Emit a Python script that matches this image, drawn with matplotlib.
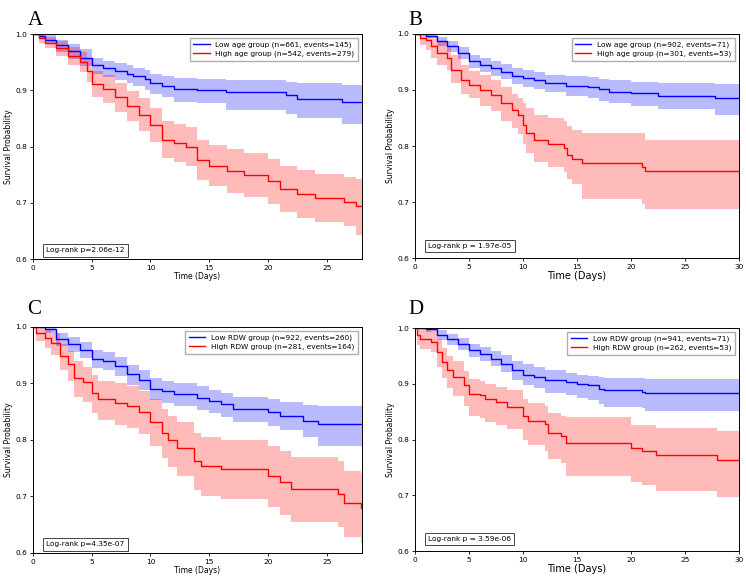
import matplotlib
matplotlib.use('Agg')
import matplotlib.pyplot as plt

# ---- Panel A: age groups (28 days) ----
a_low_t = [0, 0.5, 1, 2, 3, 4, 5, 6, 7, 8, 8.5, 9.5, 10, 11, 12, 14, 16.4, 21.5, 22.5, 26.3, 28]
a_low_s = [1.0, 0.997, 0.99, 0.98, 0.97, 0.958, 0.945, 0.94, 0.935, 0.93, 0.925, 0.92, 0.913, 0.908, 0.902, 0.901, 0.897, 0.891, 0.885, 0.879, 0.879]
a_low_hi = [1.0, 1.0, 0.998, 0.99, 0.983, 0.973, 0.958, 0.953, 0.949, 0.945, 0.94, 0.936, 0.93, 0.926, 0.922, 0.921, 0.918, 0.915, 0.914, 0.909, 0.909]
a_low_lo = [1.0, 0.992, 0.982, 0.968, 0.956, 0.943, 0.93, 0.924, 0.919, 0.913, 0.907, 0.901, 0.894, 0.888, 0.88, 0.878, 0.865, 0.858, 0.85, 0.84, 0.84]

a_high_t = [0, 0.5, 1, 2, 3, 4, 4.6, 5, 6, 7, 8, 9, 10, 11, 12, 13, 14, 15, 16.5, 18, 20, 21, 22.5, 24, 26.5, 27.5, 28]
a_high_s = [1.0, 0.993, 0.985, 0.975, 0.962, 0.95, 0.935, 0.912, 0.903, 0.888, 0.872, 0.857, 0.838, 0.812, 0.806, 0.8, 0.776, 0.766, 0.756, 0.749, 0.738, 0.725, 0.715, 0.708, 0.702, 0.695, 0.695]
a_high_hi = [1.0, 1.0, 0.995, 0.988, 0.978, 0.968, 0.955, 0.935, 0.927, 0.914, 0.899, 0.886, 0.868, 0.846, 0.84, 0.835, 0.812, 0.803, 0.795, 0.788, 0.778, 0.766, 0.758, 0.752, 0.745, 0.742, 0.742]
a_high_lo = [1.0, 0.985, 0.975, 0.962, 0.946, 0.932, 0.915, 0.888, 0.878, 0.862, 0.845, 0.828, 0.808, 0.78, 0.773, 0.766, 0.741, 0.73, 0.718, 0.71, 0.698, 0.684, 0.673, 0.665, 0.658, 0.642, 0.642]

# ---- Panel B: age groups (30 days) ----
b_low_t = [0, 1, 2, 3, 4, 5, 6, 7, 8, 9, 10, 11, 12, 14, 16, 17, 18, 20, 22.5, 27.8, 30]
b_low_s = [1.0, 0.997, 0.987, 0.978, 0.966, 0.951, 0.945, 0.939, 0.933, 0.925, 0.921, 0.918, 0.912, 0.908, 0.905, 0.901, 0.897, 0.894, 0.89, 0.886, 0.886]
b_low_hi = [1.0, 1.0, 0.995, 0.988, 0.977, 0.963, 0.958, 0.952, 0.946, 0.939, 0.935, 0.932, 0.927, 0.925, 0.923, 0.92, 0.917, 0.915, 0.912, 0.911, 0.911]
b_low_lo = [1.0, 0.993, 0.979, 0.968, 0.955, 0.939, 0.932, 0.925, 0.919, 0.911, 0.906, 0.902, 0.896, 0.889, 0.885, 0.88, 0.876, 0.872, 0.866, 0.855, 0.855]

b_high_t = [0, 0.5, 1, 1.5, 2, 3, 3.3, 4.3, 5, 6, 7, 8, 9, 9.5, 10, 10.3, 11, 12.3, 13.8, 14.1, 14.5, 15.5, 21, 21.3, 30]
b_high_s = [1.0, 0.993, 0.99, 0.978, 0.966, 0.957, 0.936, 0.918, 0.909, 0.9, 0.891, 0.876, 0.864, 0.855, 0.838, 0.823, 0.81, 0.803, 0.796, 0.784, 0.776, 0.77, 0.763, 0.756, 0.756]
b_high_hi = [1.0, 1.0, 1.0, 0.993, 0.985, 0.978, 0.962, 0.945, 0.934, 0.926, 0.918, 0.905, 0.893, 0.885, 0.876, 0.868, 0.856, 0.85, 0.845, 0.835, 0.828, 0.824, 0.824, 0.811, 0.811]
b_high_lo = [1.0, 0.98, 0.972, 0.958, 0.945, 0.935, 0.912, 0.893, 0.885, 0.872, 0.862, 0.845, 0.832, 0.822, 0.803, 0.787, 0.771, 0.763, 0.754, 0.741, 0.733, 0.705, 0.697, 0.688, 0.688]

# ---- Panel C: RDW groups (28 days) ----
c_low_t = [0, 0.5, 1, 2, 3, 4, 5, 6, 7, 8, 9, 10, 11, 12, 14, 15, 16, 17, 20, 21, 23, 24.3, 28]
c_low_s = [1.0, 1.0, 0.997, 0.978, 0.969, 0.96, 0.943, 0.94, 0.931, 0.916, 0.907, 0.89, 0.887, 0.881, 0.875, 0.869, 0.863, 0.854, 0.849, 0.843, 0.834, 0.828, 0.828]
c_low_hi = [1.0, 1.0, 1.0, 0.99, 0.982, 0.974, 0.96, 0.955, 0.947, 0.932, 0.924, 0.91, 0.905, 0.9, 0.895, 0.889, 0.884, 0.876, 0.872, 0.867, 0.862, 0.86, 0.86]
c_low_lo = [1.0, 1.0, 0.99, 0.966, 0.956, 0.945, 0.927, 0.923, 0.914, 0.898, 0.889, 0.87, 0.866, 0.86, 0.853, 0.847, 0.84, 0.831, 0.824, 0.817, 0.806, 0.79, 0.79]

c_high_t = [0, 0.3, 1, 1.5, 2.3, 3, 3.5, 4.3, 5, 5.5, 7, 8, 9, 10, 11, 11.5, 12.3, 13.7, 14.3, 16, 20, 21, 22, 26, 26.5, 27.9, 28]
c_high_s = [1.0, 0.99, 0.981, 0.972, 0.949, 0.934, 0.909, 0.902, 0.884, 0.872, 0.865, 0.86, 0.85, 0.832, 0.813, 0.8, 0.786, 0.763, 0.754, 0.749, 0.737, 0.726, 0.714, 0.705, 0.688, 0.68, 0.68]
c_high_hi = [1.0, 1.0, 0.995, 0.99, 0.97, 0.958, 0.94, 0.93, 0.915, 0.905, 0.9, 0.896, 0.887, 0.872, 0.855, 0.843, 0.832, 0.812, 0.805, 0.8, 0.79, 0.78, 0.77, 0.762, 0.745, 0.74, 0.74]
c_high_lo = [1.0, 0.975, 0.962, 0.95, 0.923, 0.905, 0.876, 0.868, 0.848, 0.836, 0.827, 0.822, 0.81, 0.79, 0.768, 0.752, 0.736, 0.711, 0.701, 0.695, 0.682, 0.668, 0.655, 0.646, 0.628, 0.618, 0.618]

# ---- Panel D: RDW groups (30 days) ----
d_low_t = [0, 0.5, 1, 2, 3, 4, 5, 6, 7, 8, 9, 10, 11, 12, 14, 15, 16, 17, 17.5, 21, 21.3, 30]
d_low_s = [1.0, 1.0, 0.998, 0.987, 0.981, 0.972, 0.96, 0.954, 0.945, 0.936, 0.924, 0.915, 0.912, 0.906, 0.904, 0.9, 0.897, 0.891, 0.888, 0.885, 0.883, 0.883]
d_low_hi = [1.0, 1.0, 1.0, 0.996, 0.99, 0.982, 0.972, 0.966, 0.958, 0.951, 0.94, 0.936, 0.93, 0.924, 0.92, 0.916, 0.914, 0.912, 0.911, 0.91, 0.909, 0.909]
d_low_lo = [1.0, 1.0, 0.993, 0.978, 0.97, 0.96, 0.948, 0.941, 0.932, 0.921, 0.907, 0.897, 0.893, 0.883, 0.88, 0.875, 0.871, 0.864, 0.858, 0.856, 0.852, 0.852]

d_high_t = [0, 0.2, 0.5, 1.5, 2, 2.5, 3, 3.5, 4.5, 5, 6, 6.5, 7.5, 8.5, 10, 10.5, 12, 12.3, 13.5, 14, 20, 21, 22.3, 28, 30]
d_high_s = [1.0, 0.987, 0.981, 0.975, 0.957, 0.939, 0.924, 0.912, 0.897, 0.882, 0.88, 0.873, 0.867, 0.858, 0.843, 0.834, 0.828, 0.812, 0.807, 0.794, 0.784, 0.779, 0.772, 0.764, 0.764]
d_high_hi = [1.0, 1.0, 0.999, 0.992, 0.98, 0.965, 0.95, 0.94, 0.922, 0.909, 0.905, 0.9, 0.895, 0.888, 0.873, 0.866, 0.861, 0.848, 0.843, 0.84, 0.826, 0.826, 0.82, 0.816, 0.816]
d_high_lo = [1.0, 0.97, 0.963, 0.957, 0.93, 0.91, 0.893, 0.878, 0.86, 0.842, 0.838, 0.831, 0.826, 0.818, 0.8, 0.79, 0.78, 0.765, 0.758, 0.735, 0.724, 0.718, 0.708, 0.697, 0.697]

panel_letters = ['A', 'B', 'C', 'D']
low_labels = ['Low age group (n=661, events=145)', 'Low age group (n=902, events=71)',
              'Low RDW group (n=922, events=260)', 'Low RDW group (n=941, events=71)']
high_labels = ['High age group (n=542, events=279)', 'High age group (n=301, events=53)',
               'High RDW group (n=281, events=164)', 'High RDW group (n=262, events=53)']
logrank_texts = ['Log-rank p=2.06e-12', 'Log-rank p = 1.97e-05',
                 'Log-rank p=4.35e-07', 'Log-rank p = 3.59e-06']
x_max = [28, 30, 28, 30]


def draw_panel(ax, low, high, i):
    big = x_max[i] == 30  # right-hand panels use slightly larger axis labels
    for (t, s, lo, hi), color, label in [(low, 'blue', low_labels[i]), (high, 'red', high_labels[i])]:
        ax.fill_between(t, lo, hi, step='post', color=color, alpha=0.27, linewidth=0)
        ax.step(t, s, where='post', color=color, linewidth=1.0, label=label)
    ax.set_xlim(0, x_max[i])
    ax.set_ylim(0.6, 1.0)
    ax.set_xticks(range(0, x_max[i] + 1, 5))
    ax.set_yticks([0.6, 0.7, 0.8, 0.9, 1.0])
    ax.tick_params(labelsize=5.3, length=2.5, width=0.6, pad=1.5)
    ax.set_xlabel('Time (Days)', fontsize=7 if big else 5.5, labelpad=1)
    ax.set_ylabel('Survival Probability', fontsize=5.5, labelpad=2)
    for sp in ax.spines.values():
        sp.set_linewidth(0.7)
    ax.legend(loc='upper right', fontsize=5.3, handlelength=2.2, borderpad=0.5,
              labelspacing=0.35, fancybox=False, edgecolor='#999999')
    ax.text(0.04, 0.04 if big else 0.025, logrank_texts[i], transform=ax.transAxes,
            fontsize=5.3, va='bottom', ha='left',
            bbox=dict(boxstyle='square,pad=0.45', facecolor='white', edgecolor='#444444', linewidth=0.7))


fig = plt.figure(figsize=(7.46, 5.78), dpi=100)
rects = [[0.0442, 0.5519, 0.441, 0.389],
         [0.5563, 0.5536, 0.4343, 0.3876],
         [0.0442, 0.0433, 0.441, 0.391],
         [0.5563, 0.0467, 0.4343, 0.3858]]
data = [((a_low_t, a_low_s, a_low_lo, a_low_hi), (a_high_t, a_high_s, a_high_lo, a_high_hi)),
        ((b_low_t, b_low_s, b_low_lo, b_low_hi), (b_high_t, b_high_s, b_high_lo, b_high_hi)),
        ((c_low_t, c_low_s, c_low_lo, c_low_hi), (c_high_t, c_high_s, c_high_lo, c_high_hi)),
        ((d_low_t, d_low_s, d_low_lo, d_low_hi), (d_high_t, d_high_s, d_high_lo, d_high_hi))]
letter_pos = [(0.037, 0.965), (0.547, 0.965), (0.037, 0.465), (0.547, 0.465)]

for i in range(4):
    ax = fig.add_axes(rects[i])
    draw_panel(ax, data[i][0], data[i][1], i)
    fig.text(letter_pos[i][0], letter_pos[i][1], panel_letters[i], fontsize=15,
             family='Liberation Serif', va='center', ha='left')

fig.savefig('out.png', dpi=100)
